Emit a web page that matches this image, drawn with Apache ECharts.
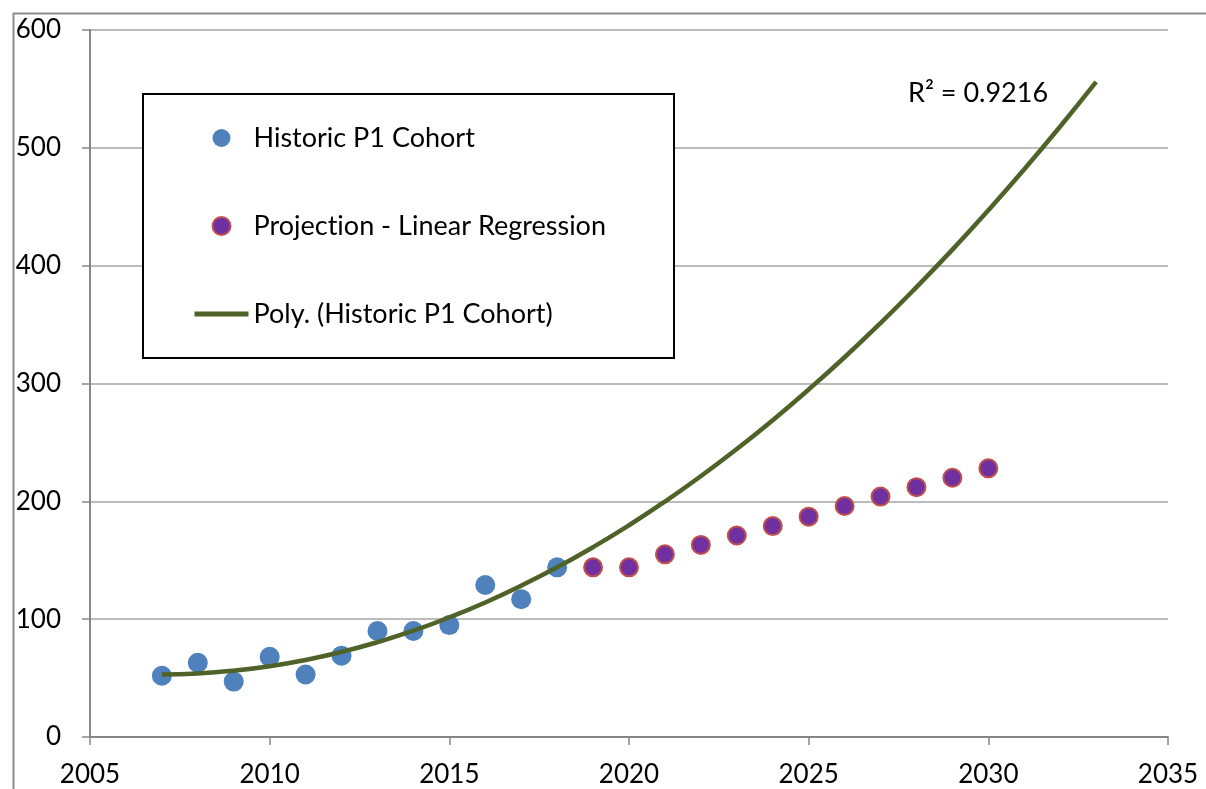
<!DOCTYPE html>
<html>
<head>
<meta charset="utf-8">
<script src="https://cdn.jsdelivr.net/npm/echarts@6/dist/echarts.min.js"></script>
<style>html,body{margin:0;padding:0;background:#fff;}#c{width:1206px;height:789px;}</style>
</head>
<body>
<div id="c"></div>
<script>
const historicYears = [2007,2008,2009,2010,2011,2012,2013,2014,2015,2016,2017,2018];
const historicValues = [52,63,47,68,53,69,90,90,95,129,117,144];
const projectionYears = [2019,2020,2021,2022,2023,2024,2025,2026,2027,2028,2029,2030];
const projectionValues = [144,144,155,163,171,179,187,196,204,212,220,228];
const trendYears = [2007,2008,2009,2010,2011,2012,2013,2014,2015,2016,2017,2018,2019,2020,2021,2022,2023,2024,2025,2026,2027,2028,2029,2030,2031,2032,2033];
const trendValues = [53,53.9,56.3,60.1,65.4,72.2,80.5,90.2,101.5,114.2,128.4,144,161.1,179.7,199.8,221.4,244.4,268.9,294.9,322.3,351.3,381.8,413.6,447,481.8,518.1,555.9];
const xTicks = {min:2005, max:2035, interval:5};
const yTicks = {min:0, max:600, interval:100};
const seriesNames = ['Historic P1 Cohort','Projection - Linear Regression','Poly. (Historic P1 Cohort)'];
const r2Label = 'R² = 0.9216';

const zip = (xs, ys) => xs.map((x,i)=>[x, ys[i]]);
const FONT = 'Lato, "Open Sans", sans-serif';
// split text into rich segments so the canvas doesn't merge "ti" into a ligature
const noLig = s => s.split('ti').map(p => '{a|' + p + '}').join('{a|t}{a|i}');
const chart = echarts.init(document.getElementById('c'));
chart.setOption({
  animation:false,
  backgroundColor:'#fff',
  grid:{left:90,right:38,top:30,bottom:52,containLabel:false},
  xAxis:{type:'value',min:xTicks.min,max:xTicks.max,interval:xTicks.interval,
    axisLine:{show:true,lineStyle:{color:'#868686',width:2}},
    axisTick:{show:true,length:8,lineStyle:{color:'#868686',width:1.5}},
    splitLine:{show:false},
    axisLabel:{formatter:v=>String(v),color:'#000',fontSize:26,fontFamily:FONT,margin:25}},
  yAxis:{type:'value',min:yTicks.min,max:yTicks.max,interval:yTicks.interval,
    axisLine:{show:true,lineStyle:{color:'#868686',width:2}},
    axisTick:{show:true,inside:false,length:8,lineStyle:{color:'#868686',width:1.5}},
    splitLine:{show:true,lineStyle:{color:'#A6A6A6',width:1.5}},
    axisLabel:{color:'#000',fontSize:26,fontFamily:FONT,margin:29}},
  legend:{orient:'vertical',left:187,top:119,itemWidth:54,itemHeight:18,itemGap:60,
    data:[
      {name:seriesNames[0]},
      {name:seriesNames[1]},
      {name:seriesNames[2],itemStyle:{opacity:0},lineStyle:{width:5,color:'#4F6228'}}
    ],
    formatter:noLig,
    textStyle:{fontSize:27,fontFamily:FONT,color:'#000',lineHeight:28,
      rich:{a:{fontSize:27,fontFamily:FONT,color:'#000',lineHeight:28}}},
    selectedMode:false},
  graphic:[
    {type:'rect',left:11,top:11,shape:{width:1300,height:1000},style:{fill:'none',stroke:'#8C8C8C',lineWidth:2},silent:true,z:-10},
    {type:'rect',left:142,top:93,shape:{width:531,height:264},style:{fill:'#fff',stroke:'#000',lineWidth:2},z:1},
    {type:'text',left:908,top:80,style:{text:r2Label,fontSize:27,fontFamily:FONT,fill:'#000'},z:5}
  ],
  series:[
    {name:seriesNames[0],type:'scatter',data:zip(historicYears,historicValues),symbolSize:20,
      itemStyle:{color:'#4F81BD',opacity:1},z:2},
    {name:seriesNames[1],type:'scatter',data:zip(projectionYears,projectionValues),symbolSize:18,
      itemStyle:{color:'#7030A0',borderColor:'#C0504D',borderWidth:2,opacity:1},z:2},
    {name:seriesNames[2],type:'line',data:zip(trendYears,trendValues),smooth:true,showSymbol:false,symbol:'none',
      lineStyle:{color:'#4F6228',width:4.5},itemStyle:{color:'#4F6228'},z:3}
  ]
});
</script>
</body>
</html>
